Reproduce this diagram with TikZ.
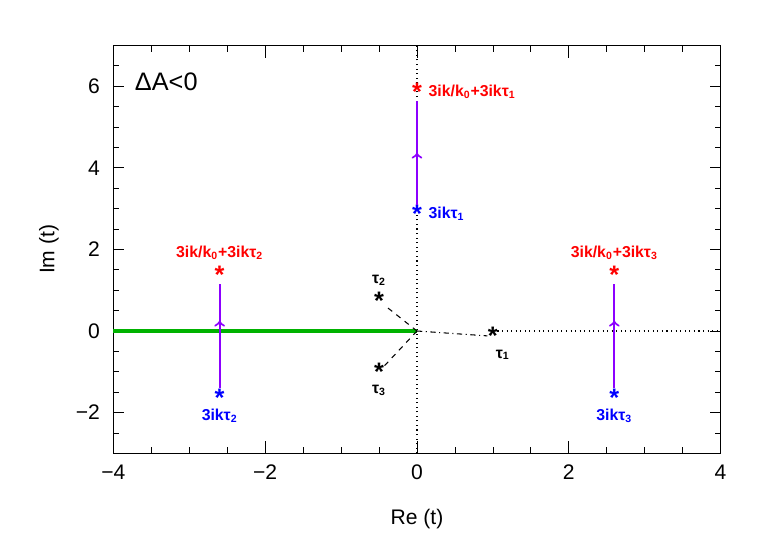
\documentclass[tikz,border=0pt]{standalone}
\usepackage{fontspec}
\setmainfont{Liberation Sans}
\usetikzlibrary{decorations.markings}
\definecolor{flowc}{RGB}{140,0,255}

\begin{document}
\begin{tikzpicture}[x=1.518cm, y=0.816cm, semithick,
    flow/.style={flowc, line width=1.2pt, postaction={decorate}},
    star/.style={font=\Large\bfseries, inner sep=0pt, yshift=-3pt},
    lab/.style={font=\small\bfseries},
    tick/.style={thin}]
  \useasboundingbox (-5.494,-5.245) rectangle (4.559,8.113);
  % frame and ticks
  \draw[thick] (-4,-3) rectangle (4,7);
  \foreach \x in {-4,-3.5,...,4} {
    \draw[tick] (\x,-3) -- (\x,-2.85);
    \draw[tick] (\x,7) -- (\x,6.85);
  }
  \foreach \x/\t in {-4/−4,-2/−2,0/0,2/2,4/4} {
    \draw[tick] (\x,-3) -- (\x,-2.7);
    \draw[tick] (\x,7) -- (\x,6.7);
    \node[below=3pt] (xl\x) at (\x,-3) {\large\t};
  }
  \foreach \y in {-3,-2.5,...,7} {
    \draw[tick] (-4,\y) -- (-3.93,\y);
    \draw[tick] (4,\y) -- (3.93,\y);
  }
  \foreach \y/\t in {-2/−2,0/0,2/2,4/4,6/6} {
    \draw[tick] (-4,\y) -- (-3.86,\y);
    \draw[tick] (4,\y) -- (3.86,\y);
    \node[left=4pt] (yl\y) at (-4,\y) {\large\t};
  }
  \node (xt) at (0,-4.6) {\large Re (t)};
  \node[rotate=90] (yt) at (-4.85,2) {\large Im (t)};
  \node[anchor=west] (da) at (-3.8,6.1) {\Large ΔA<0};
  % reference axes
  \draw[dotted] (0,-3) -- (0,7);
  \draw[dotted] (1,0) -- (4,0);
  \draw[green!70!black, line width=2.5pt] (-4,0) -- (0,0);
  \coordinate (o) at (0,0);
  % tau points
  \node[star] (t1) at (1,0) {*};
  \node[star] (t2) at (-0.5,0.866) {*};
  \node[star] (t3) at (-0.5,-0.866) {*};
  \draw[dash dot] (o) -- (t1);
  \draw[dashed] (o) -- (t2);
  \draw[dashed] (o) -- (t3);
  \node[lab, anchor=north west] (l1) at ([xshift=-2pt,yshift=-4pt]t1) {τ\textsubscript{1}};
  \node[lab, above=5pt] (l2) at (t2) {τ\textsubscript{2}};
  \node[lab, below=4pt] (l3) at (t3) {τ\textsubscript{3}};
  % branch points
  \begin{scope}[decoration={markings, mark=at position 0.5 with {\arrow{>}}}]
    \node[star, blue] (b1) at (0,3) {*};
    \node[star, red] (r1) at (0,6) {*};
    \draw[flow] (b1) -- (r1);
  \end{scope}
  \begin{scope}[decoration={markings, mark=at position 0.65 with {\arrow{>}}}]
    \node[star, blue] (b2) at (-2.6,-1.5) {*};
    \node[star, red] (r2) at (-2.6,1.5) {*};
    \node[star, blue] (b3) at (2.6,-1.5) {*};
    \node[star, red] (r3) at (2.6,1.5) {*};
    \draw[flow] (b2) -- (r2);
    \draw[flow] (b3) -- (r3);
  \end{scope}
  \node[lab, red, right=3pt] (lr1) at (r1) {3ik/k\textsubscript{0}+3ikτ\textsubscript{1}};
  \node[lab, blue, right=3pt] (lb1) at (b1) {3ikτ\textsubscript{1}};
  \node[lab, red, above=5pt] (lr2) at (r2) {3ik/k\textsubscript{0}+3ikτ\textsubscript{2}};
  \node[lab, blue, below=3pt] (lb2) at (b2) {3ikτ\textsubscript{2}};
  \node[lab, red, above=5pt] (lr3) at (r3) {3ik/k\textsubscript{0}+3ikτ\textsubscript{3}};
  \node[lab, blue, below=3pt] (lb3) at (b3) {3ikτ\textsubscript{3}};
\end{tikzpicture}
\end{document}
